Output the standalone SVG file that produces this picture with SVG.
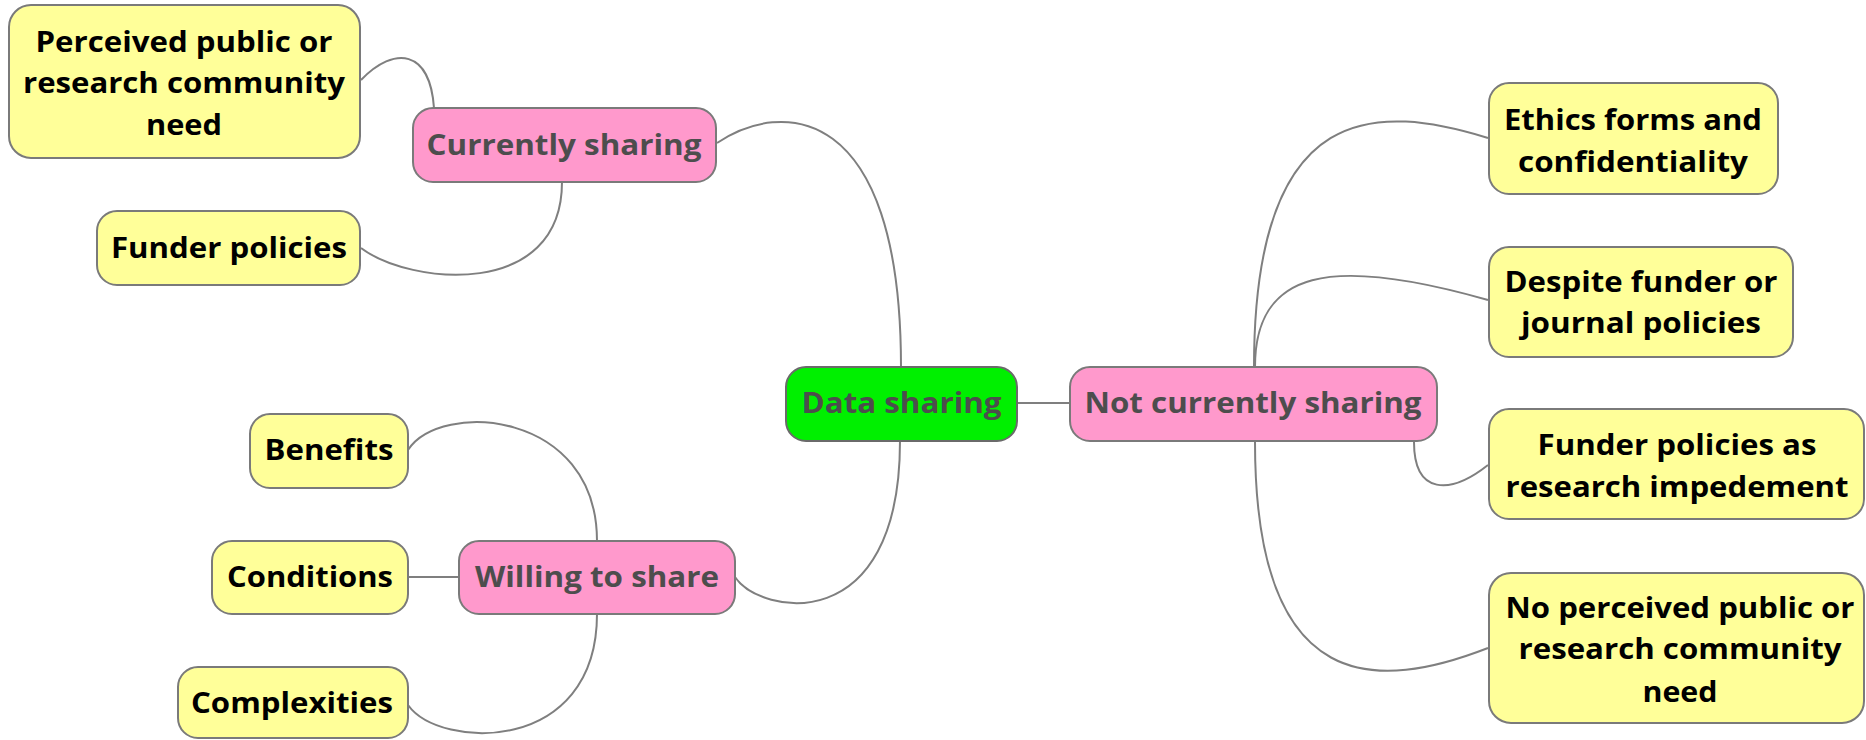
<svg xmlns="http://www.w3.org/2000/svg" width="1866" height="740" viewBox="0 0 1866 740">
<style>
.y rect{fill:#ffff99;stroke:#7a7a7a;stroke-width:2}
.p rect{fill:#ff99cc;stroke:#7a7a7a;stroke-width:2}
.g rect{fill:#00f000;stroke:#6a6a6a;stroke-width:2}
text{font-family:"Open Sans","Noto Sans","DejaVu Sans",sans-serif;font-weight:bold;font-size:28.5px;text-anchor:middle}
.y text{fill:#000}
.p text,.g text{fill:#4d4d4d}
#connectors path{fill:none;stroke:#7f7f7f;stroke-width:2}
</style>
<rect width="1866" height="740" fill="#fff"/>
<g id="connectors">
<path d="M901,367 C901,100 780,100 717,143"/>
<path d="M900,441 C900,640 760,615 735,577"/>
<path d="M1017,403 L1070,403"/>
<path d="M434,108 C430,50 395,45 361,80"/>
<path d="M562,182 C562,300 410,285 361,248"/>
<path d="M597,541 C597,410 440,400 408,450"/>
<path d="M459,577 L408,577"/>
<path d="M597,614 C597,755 440,750 408,705"/>
<path d="M1254,367 C1254,95 1380,105 1488,138"/>
<path d="M1255,367 C1255,270 1330,255 1488,300"/>
<path d="M1414,442 C1414,495 1450,495 1488,465"/>
<path d="M1255,442 C1255,700 1380,690 1488,648"/>
</g>
<g id="data-sharing" class="g"><rect x="786" y="367" width="231" height="74" rx="20"/><text x="901.5" y="413" textLength="200" lengthAdjust="spacingAndGlyphs">Data sharing</text></g>
<g id="not-currently-sharing" class="p"><rect x="1070" y="367" width="367" height="74" rx="20"/><text x="1253" y="413" textLength="337" lengthAdjust="spacingAndGlyphs">Not currently sharing</text></g>
<g id="currently-sharing" class="p"><rect x="413" y="108" width="303" height="74" rx="20"/><text x="564" y="155" textLength="275" lengthAdjust="spacingAndGlyphs">Currently sharing</text></g>
<g id="willing-to-share" class="p"><rect x="459" y="541" width="276" height="73" rx="20"/><text x="597" y="587" textLength="244" lengthAdjust="spacingAndGlyphs">Willing to share</text></g>
<g id="perceived-need" class="y"><rect x="9" y="5" width="351" height="153" rx="22"/><text x="184" y="52" textLength="297" lengthAdjust="spacingAndGlyphs">Perceived public or</text><text x="184" y="93" textLength="322" lengthAdjust="spacingAndGlyphs">research community</text><text x="184" y="135" textLength="76" lengthAdjust="spacingAndGlyphs">need</text></g>
<g id="funder-policies" class="y"><rect x="97" y="211" width="263" height="74" rx="20"/><text x="229" y="258" textLength="236" lengthAdjust="spacingAndGlyphs">Funder policies</text></g>
<g id="benefits" class="y"><rect x="250" y="414" width="158" height="74" rx="20"/><text x="329" y="460" textLength="129" lengthAdjust="spacingAndGlyphs">Benefits</text></g>
<g id="conditions" class="y"><rect x="212" y="541" width="196" height="73" rx="20"/><text x="310" y="587" textLength="166" lengthAdjust="spacingAndGlyphs">Conditions</text></g>
<g id="complexities" class="y"><rect x="178" y="667" width="230" height="71" rx="20"/><text x="292" y="713" textLength="202" lengthAdjust="spacingAndGlyphs">Complexities</text></g>
<g id="ethics" class="y"><rect x="1489" y="83" width="289" height="111" rx="20"/><text x="1633" y="130" textLength="258" lengthAdjust="spacingAndGlyphs">Ethics forms and</text><text x="1633" y="172" textLength="230" lengthAdjust="spacingAndGlyphs">confidentiality</text></g>
<g id="despite" class="y"><rect x="1489" y="247" width="304" height="110" rx="20"/><text x="1641" y="292" textLength="273" lengthAdjust="spacingAndGlyphs">Despite funder or</text><text x="1641" y="333" textLength="240" lengthAdjust="spacingAndGlyphs">journal policies</text></g>
<g id="impediment" class="y"><rect x="1489" y="409" width="375" height="110" rx="20"/><text x="1677" y="455" textLength="279" lengthAdjust="spacingAndGlyphs">Funder policies as</text><text x="1677" y="497" textLength="343" lengthAdjust="spacingAndGlyphs">research impedement</text></g>
<g id="no-perceived-need" class="y"><rect x="1489" y="573" width="375" height="150" rx="22"/><text x="1680" y="618" textLength="349" lengthAdjust="spacingAndGlyphs">No perceived public or</text><text x="1680" y="659" textLength="323" lengthAdjust="spacingAndGlyphs">research community</text><text x="1680" y="702" textLength="75" lengthAdjust="spacingAndGlyphs">need</text></g>
</svg>
